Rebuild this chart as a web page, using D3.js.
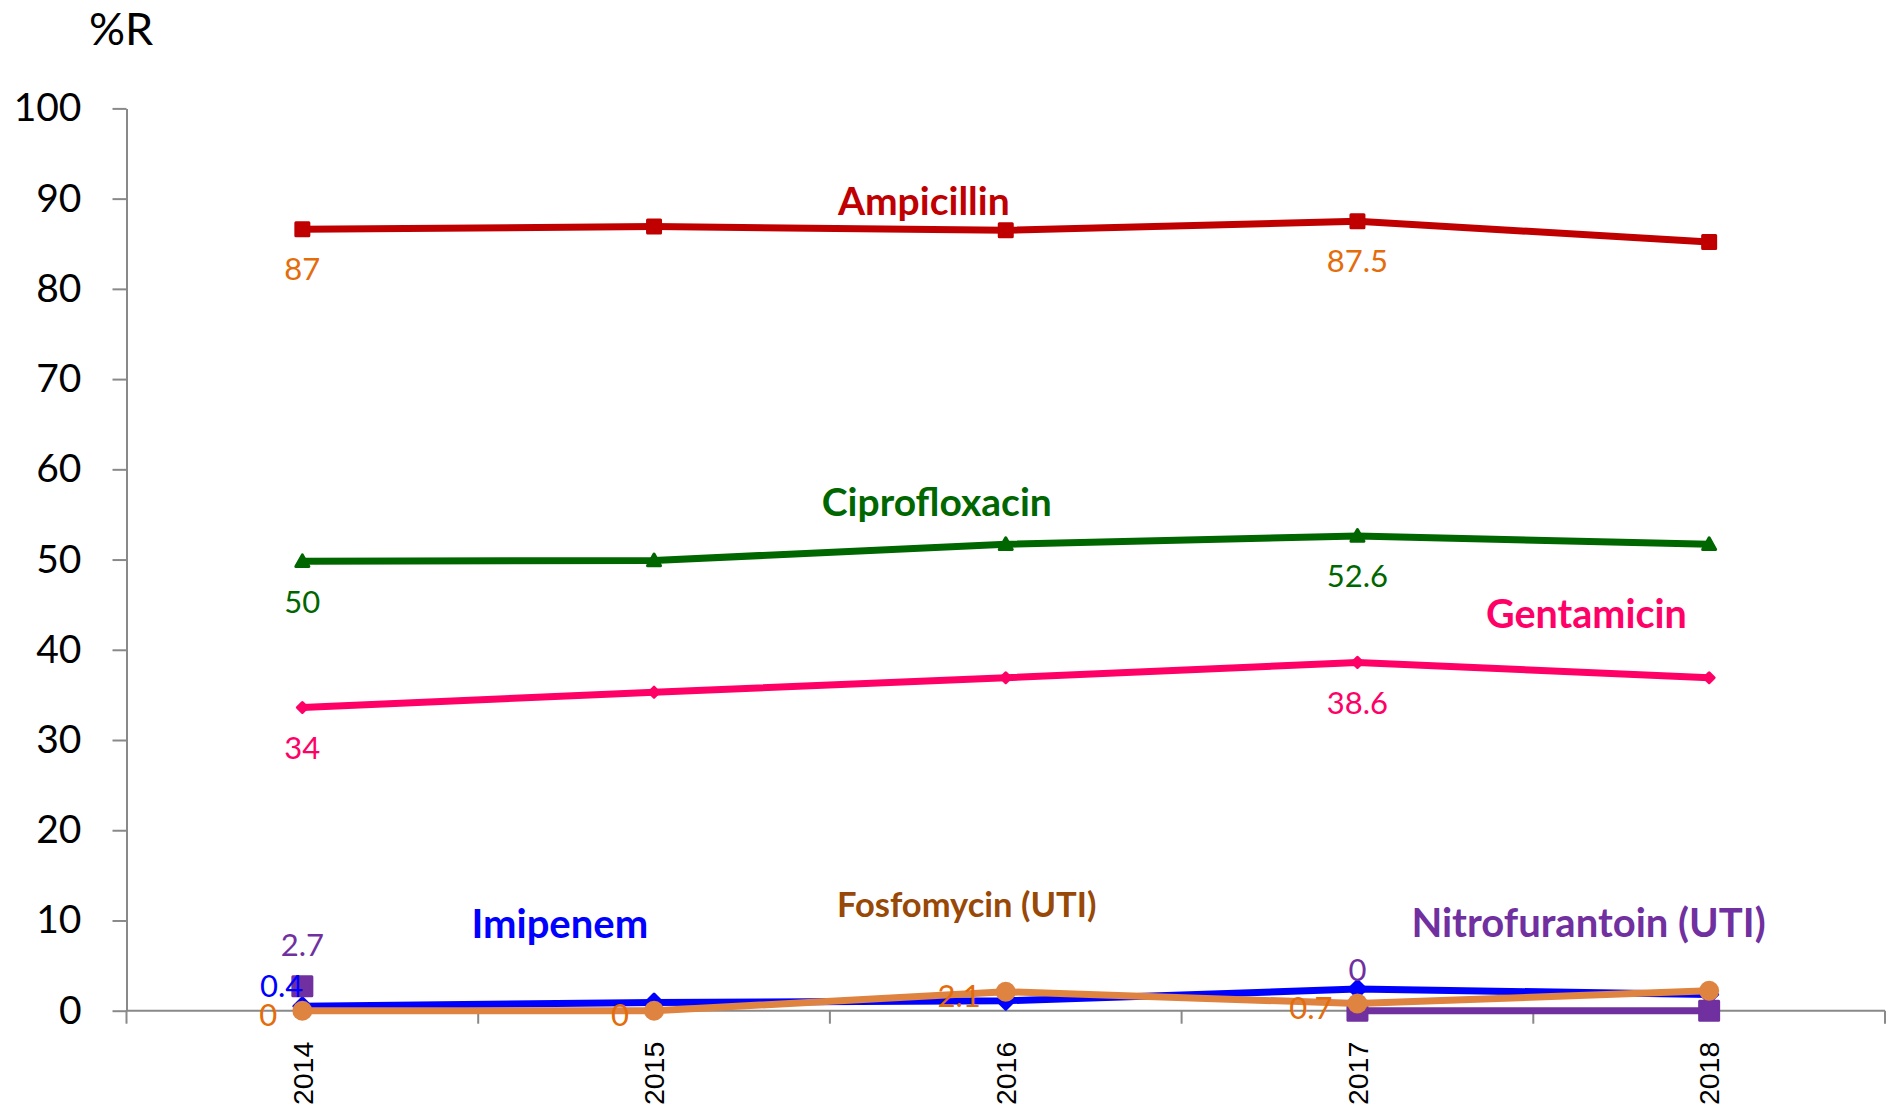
<!DOCTYPE html>
<html>
<head>
<meta charset="utf-8">
<script src="https://cdn.jsdelivr.net/npm/d3@7"></script>
<style>
  html, body { margin: 0; padding: 0; background: #fff; }
  svg { display: block; }
</style>
</head>
<body>
<svg id="chart" width="1889" height="1115"></svg>
<script>
// ---------- data ----------
const years = ["2014", "2015", "2016", "2017", "2018"];
const yTicks = [0, 10, 20, 30, 40, 50, 60, 70, 80, 90, 100];
const yAxisTitle = "%R";

const ampicillin     = [86.6, 86.9, 86.5, 87.5, 85.2];
const ciprofloxacin  = [49.8, 49.9, 51.7, 52.6, 51.7];
const gentamicin     = [33.6, 35.3, 36.9, 38.6, 36.9];
const imipenem       = [0.5, 0.9, 1.1, 2.4, 1.8];
const fosfomycin     = [0, 0, 2.1, 0.8, 2.2];
const nitrofurantoin = [2.7, null, null, 0, 0];

const ampicillinLabels     = ["87", null, null, "87.5", null];
const ciprofloxacinLabels  = ["50", null, null, "52.6", null];
const gentamicinLabels     = ["34", null, null, "38.6", null];
const imipenemLabels       = ["0.4", null, null, null, null];
const fosfomycinLabels     = ["0", "0", "2.1", "0.7", null];
const nitrofurantoinLabels = ["2.7", null, null, "0", null];

const seriesNames = ["Ampicillin", "Ciprofloxacin", "Gentamicin", "Nitrofurantoin (UTI)", "Imipenem", "Fosfomycin (UTI)"];

// ---------- layout / style ----------
const W = 1889, H = 1115;
const plot = { left: 126.5, right: 1885, top: 108.4, bottom: 1010.7 };
const FONT = "Lato, 'Open Sans', sans-serif";
const AXIS_COLOR = "#898989";

const series = [
  { name: "Ampicillin", values: ampicillin, labels: ampicillinLabels, color: "#C00000", labelColor: "#E46C0A",
    marker: "square", size: 16, labelPos: "below", title: { xi: 1.767, v: 88.2, size: 39, color: "#C00000" } },
  { name: "Ciprofloxacin", values: ciprofloxacin, labels: ciprofloxacinLabels, color: "#006600", labelColor: "#006600",
    marker: "triangle", size: 16, labelPos: "below", title: { xi: 1.804, v: 54.8, size: 39, color: "#006600" } },
  { name: "Gentamicin", values: gentamicin, labels: gentamicinLabels, color: "#FF0066", labelColor: "#FF0066",
    marker: "diamond", size: 13, labelPos: "below", title: { xi: 3.651, v: 42.4, size: 39.5, color: "#FF0066" } },
  { name: "Imipenem", values: imipenem, labels: imipenemLabels, color: "#0000FF", labelColor: "#0000FF",
    marker: "diamond", size: 20, labelPos: "leftup", title: { xi: 0.732, v: 8.06, size: 40, color: "#0000FF" } },
  { name: "Nitrofurantoin (UTI)", values: nitrofurantoin, labels: nitrofurantoinLabels, color: "#7030A0", labelColor: "#7030A0",
    marker: "square", size: 22, labelPos: "above", title: { xi: 3.657, v: 8.2, size: 40, color: "#7030A0" } },
  { name: "Fosfomycin (UTI)", values: fosfomycin, labels: fosfomycinLabels, color: "#DE8340", labelColor: "#E46C0A",
    marker: "circle", size: 20, labelPos: "left", title: { xi: 1.889, v: 10.4, size: 34.5, color: "#984807" } }
];

const svg = d3.select("#chart");

const x = d3.scaleBand().domain(years).range([plot.left, plot.right]).padding(0);
const y = d3.scaleLinear().domain([0, 100]).range([plot.bottom, plot.top]);
const cx = d => x(d) + x.bandwidth() / 2;
const xAt = xi => cx(years[0]) + xi * x.step();

// ---------- axes ----------
const yAxis = d3.axisLeft(y).tickValues(yTicks).tickSize(14).tickSizeOuter(0).tickPadding(31);
const gy = svg.append("g").attr("transform", `translate(${plot.left},0)`).call(yAxis);
gy.select(".domain").attr("stroke", AXIS_COLOR).attr("stroke-width", 2);
gy.selectAll(".tick line").attr("stroke", AXIS_COLOR).attr("stroke-width", 2);
gy.selectAll(".tick text").attr("font-family", FONT).attr("font-size", 39).attr("fill", "#000");

// x axis: line at y=0, ticks at band boundaries, labels rotated
const gx = svg.append("g").attr("transform", `translate(0,${y(0)})`);
gx.append("line").attr("x1", plot.left).attr("x2", plot.right).attr("y1", 0).attr("y2", 0)
  .attr("stroke", AXIS_COLOR).attr("stroke-width", 2);
const boundaries = years.map(d => x(d)).concat([x(years[years.length - 1]) + x.step()]);
gx.selectAll("line.bt").data(boundaries).join("line").attr("class", "bt")
  .attr("x1", d => d).attr("x2", d => d).attr("y1", 0).attr("y2", 13)
  .attr("stroke", AXIS_COLOR).attr("stroke-width", 2);
gx.selectAll("text.yl").data(years).join("text").attr("class", "yl")
  .attr("transform", d => `translate(${cx(d)},31) rotate(-90)`)
  .attr("text-anchor", "end").attr("dy", "0.36em")
  .attr("font-family", "'Liberation Sans', Arial, sans-serif").attr("font-size", 28.5).attr("fill", "#000")
  .text(d => d);

// y-axis title
svg.append("text").attr("x", 89).attr("y", 45).attr("font-family", FONT).attr("font-size", 45)
  .attr("fill", "#000").text(yAxisTitle);

// ---------- lines & markers ----------
const line = d3.line().defined(d => d.v !== null).x(d => cx(d.year)).y(d => y(d.v));

function markerPath(type, s) {
  const h = s / 2;
  if (type === "square") return `M${-h},${-h}H${h}V${h}H${-h}Z`;
  if (type === "diamond") return `M0,${-h}L${h},0L0,${h}L${-h},0Z`;
  if (type === "triangle") return `M0,${-h}L${h},${h * 0.8}L${-h},${h * 0.8}Z`;
  return null;
}

series.forEach(s => {
  const pts = years.map((yr, i) => ({ year: yr, v: s.values[i] }));
  const g = svg.append("g");
  g.append("path").datum(pts).attr("d", line)
    .attr("fill", "none").attr("stroke", s.color).attr("stroke-width", 7)
    .attr("stroke-linejoin", "round").attr("stroke-linecap", "round");
  const mk = g.selectAll("g.mk").data(pts.filter(p => p.v !== null)).join("g").attr("class", "mk")
    .attr("transform", p => `translate(${cx(p.year)},${y(p.v)})`);
  if (s.marker === "circle") {
    mk.append("circle").attr("r", s.size / 2).attr("fill", s.color);
  } else {
    mk.append("path").attr("d", markerPath(s.marker, s.size - 3))
      .attr("fill", s.color).attr("stroke", s.color).attr("stroke-width", 3).attr("stroke-linejoin", "round");
  }
});

// ---------- data labels ----------
series.forEach(s => {
  years.forEach((yr, i) => {
    const t = s.labels[i];
    if (t === null) return;
    const px = cx(yr), py = y(s.values[i]);
    const lab = svg.append("text").attr("font-family", FONT).attr("font-size", 31)
      .attr("fill", s.labelColor).attr("dy", "0.36em").text(t);
    if (s.labelPos === "below") lab.attr("x", px).attr("y", py + 40).attr("text-anchor", "middle");
    else if (s.labelPos === "above") lab.attr("x", px).attr("y", py - 41).attr("text-anchor", "middle");
    else if (s.labelPos === "left") lab.attr("x", px - 25).attr("y", py + 4).attr("text-anchor", "end");
    else if (s.labelPos === "leftup") lab.attr("x", px + 1).attr("y", py - 20).attr("text-anchor", "end");
  });
});

// ---------- series titles ----------
series.forEach(s => {
  svg.append("text").attr("x", xAt(s.title.xi)).attr("y", y(s.title.v))
    .attr("text-anchor", "middle").attr("font-family", FONT).attr("font-weight", 700)
    .attr("font-size", s.title.size).attr("fill", s.title.color).text(s.name);
});
</script>
</body>
</html>
